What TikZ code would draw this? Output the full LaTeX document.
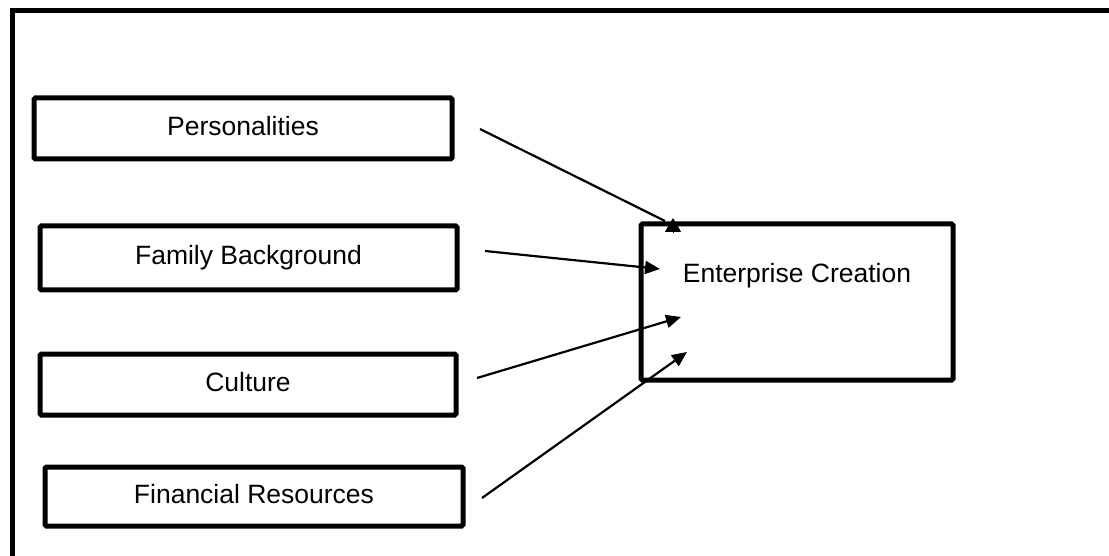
\documentclass[tikz,border=0pt]{standalone}
\usepackage{fontspec}
\setmainfont{Liberation Sans}
\usetikzlibrary{arrows.meta}
\begin{document}
\begin{tikzpicture}[x=1pt,y=-1pt,
  factorbox/.style={draw=black,line width=5pt,rounded corners=1.5pt,inner sep=0pt,
    font=\fontsize{26.5}{30}\selectfont,text height=19pt,text depth=5.5pt},
  link/.style={line width=2.2pt,-{Triangle[length=15pt,width=13pt]}},
  plainlink/.style={line width=2.2pt},
  uptip/.style={line width=1pt,-{Triangle[length=14pt,width=16pt]}}]
  \useasboundingbox (0,0) rectangle (1109,556);
  \begin{scope}
    \clip (0,0) rectangle (1109,556);
    % outer frame, running past the right and lower edges
    \draw[line width=5pt] (12.5,10.5) rectangle (1130,580);
  \end{scope}
  % factor boxes
  \node[factorbox,minimum width=418pt,minimum height=61pt] (pers) at (243,128.5) {Personalities};
  \node[factorbox,minimum width=417pt,minimum height=64pt] (fam) at (248.5,258) {Family Background};
  \node[factorbox,minimum width=416pt,minimum height=61pt] (cult) at (248,384.5) {Culture};
  \node[factorbox,minimum width=418pt,minimum height=59pt] (fin) at (254,496.5) {Financial Resources};
  % outcome box
  \node[draw=black,line width=5pt,rounded corners=1.5pt,minimum width=312pt,minimum height=156pt] (ec) at (797,302) {};
  \node[anchor=base,inner sep=0pt,font=\fontsize{26.5}{30}\selectfont] (ectext) at (797,283) {Enterprise Creation};
  % arrow end points
  \coordinate (s1) at (480,129);
  \coordinate (e1) at (665,221);
  \coordinate (t1base) at (673,232);
  \coordinate (t1tip) at (673,218);
  \coordinate (s2) at (485,251);
  \coordinate (e2) at (660,269);
  \coordinate (s3) at (477,378);
  \coordinate (e3) at (681,317);
  \coordinate (s4) at (482,498);
  \coordinate (e4) at (687,352);
  % the first link ends in an upright head on the box's top edge
  \draw[plainlink] (s1) -- (e1);
  \draw[uptip] (t1base) -- (t1tip);
  \draw[link] (s2) -- (e2);
  \draw[link] (s3) -- (e3);
  \draw[link] (s4) -- (e4);
\end{tikzpicture}
\end{document}
